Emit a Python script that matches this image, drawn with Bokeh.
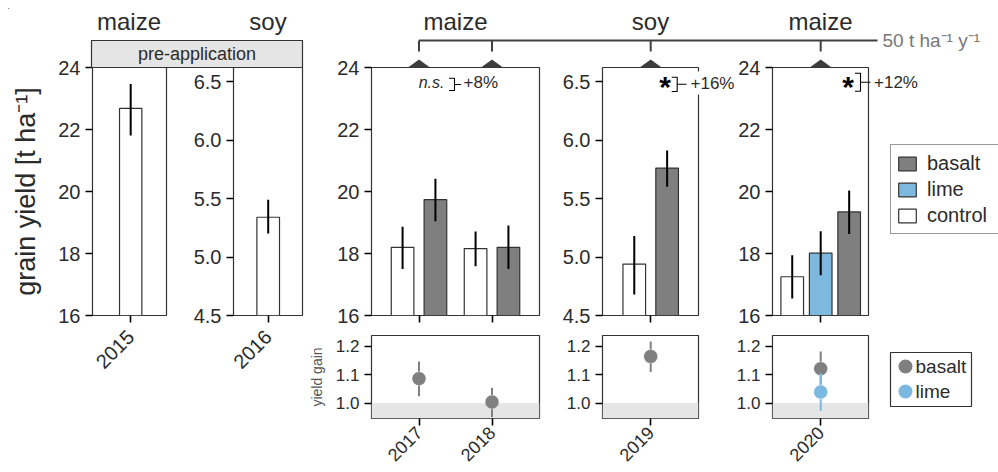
import math
from bokeh.plotting import figure
from bokeh.models import (Range1d, FixedTicker, NumeralTickFormatter,
                          Legend, LegendItem, ColumnDataSource)
from bokeh.core.properties import value
from bokeh.embed import file_html
from bokeh.resources import INLINE

# ------------------------------------------------------------------ data
pre_crops = ["maize", "soy"]
pre_years = ["2015", "2016"]
pre_control = [22.68, 5.34]
pre_control_lo = [21.81, 5.20]
pre_control_hi = [23.47, 5.49]

post_crops = ["maize", "soy", "maize"]

years_1718 = ["2017", "2018"]
control_1718 = [18.20, 18.16]
control_1718_lo = [17.50, 17.59]
control_1718_hi = [18.86, 18.71]
basalt_1718 = [19.74, 18.20]
basalt_1718_lo = [19.04, 17.50]
basalt_1718_hi = [20.41, 18.90]

years_19 = ["2019"]
control_19 = [4.94]
control_19_lo = [4.68]
control_19_hi = [5.18]
basalt_19 = [5.76]
basalt_19_lo = [5.60]
basalt_19_hi = [5.91]

years_20 = ["2020"]
control_20 = [17.25]
control_20_lo = [16.55]
control_20_hi = [17.94]
lime_20 = [18.01]
lime_20_lo = [17.30]
lime_20_hi = [18.72]
basalt_20 = [19.34]
basalt_20_lo = [18.63]
basalt_20_hi = [20.03]

gain_basalt_1718 = [1.086, 1.004]
gain_basalt_1718_lo = [1.024, 0.951]
gain_basalt_1718_hi = [1.146, 1.054]
gain_basalt_19 = [1.164]
gain_basalt_19_lo = [1.109]
gain_basalt_19_hi = [1.216]
gain_basalt_20 = [1.121]
gain_basalt_20_lo = [1.061]
gain_basalt_20_hi = [1.181]
gain_lime_20 = [1.039]
gain_lime_20_lo = [0.972]
gain_lime_20_hi = [1.106]
no_gain = 1.0

significance = ["n.s.", "*", "*"]
effect = ["+8%", "+16%", "+12%"]

maize_ticks = [16, 18, 20, 22, 24]
soy_ticks = [4.5, 5.0, 5.5, 6.0, 6.5]
gain_ticks = [1.0, 1.1, 1.2]
maize_range = (16, 24)
soy_range = (4.5, 6.62)
gain_range = (0.946, 1.2375)

treatments = ["basalt", "lime", "control"]
strip_label = "pre-application"
rate_label = "50 t ha\u207b\u00b9 y\u207b\u00b9"
y_title = "grain yield [t ha\u207b\u00b9]"
gain_title = "yield gain"

# ------------------------------------------------------------------ style / layout
FONT = "Liberation Sans"
W, HF, OFF = 990, 464, 8
EDGE = "#333333"
TXT = "#2b2b2b"
C_CONTROL = "white"
C_BASALT = "#7f7f7f"
C_LIME = "#7db8de"
P_BASALT = "#808080"
P_LIME = "#7cb9e1"
BAND = "#e5e5e5"
DECO = "#404040"
POS = {"position": "absolute", "left": "8px", "top": "8px"}

TOP_T, TOP_B = 67, 315
BOT_T, BOT_B = 335, 418
PX_PER_CAT = 73.0
BAR_W = 0.31
DODGE2 = [-0.225, 0.225]
DODGE3 = [-0.39, 0.0, 0.39]

# panel left edge, right edge, centre of first category (page pixels)
COLS = {"A": (91, 166, 129.7), "B": (233, 302, 267.7), "C": (371, 539, 418.5),
        "D": (602, 698, 650.2), "E": (772, 868, 820.2)}


def xpix(col, x):
    l, r, c = COLS[col]
    return c + (x - 1) * PX_PER_CAT


def panel(col, top, bottom, yrange, yticks, years, yfmt="0", show_years=True,
          ylab_size="20px", xlab_size="20px", xlab_standoff=11):
    l, r, c = COLS[col]
    xr = Range1d(1 - (c - l) / PX_PER_CAT, 1 + (r - c) / PX_PER_CAT)
    p = figure(width=W, height=HF, x_range=xr, y_range=Range1d(*yrange),
               output_backend="svg", toolbar_location=None, title=None,
               min_border_left=l - OFF, min_border_top=top - OFF,
               min_border_right=W - (r - OFF), min_border_bottom=HF - (bottom - OFF),
               background_fill_color=None, border_fill_color=None, styles=POS)
    p.outline_line_color = EDGE
    p.outline_line_width = 1.2
    p.xgrid.visible = False
    p.ygrid.visible = False
    ticks = list(range(1, len(years) + 1))
    p.xaxis.ticker = FixedTicker(ticks=ticks)
    p.xaxis.major_label_overrides = {t: y for t, y in zip(ticks, years)}
    p.yaxis.ticker = FixedTicker(ticks=yticks)
    p.yaxis.formatter = NumeralTickFormatter(format=yfmt)
    for ax in (p.xaxis[0], p.yaxis[0]):
        ax.axis_line_color = None
        ax.major_tick_line_color = "black"
        ax.major_tick_line_width = 1.6
        ax.major_tick_out = 7
        ax.major_tick_in = 0
        ax.minor_tick_line_color = None
        ax.major_label_text_font = FONT
        ax.major_label_text_color = TXT
    p.yaxis.major_label_text_font_size = ylab_size
    p.xaxis.major_label_text_font_size = xlab_size
    p.xaxis.major_label_standoff = xlab_standoff
    p.xaxis.major_label_orientation = math.pi / 4
    if not show_years:
        p.xaxis.major_label_text_color = None
    return p


def bars(p, offset, means, lo, hi, fill):
    xs = [i + 1 + offset for i in range(len(means))]
    p.vbar(x=xs, top=means, bottom=0, width=BAR_W, fill_color=fill,
           line_color=EDGE, line_width=1.2)
    p.segment(x0=xs, y0=lo, x1=xs, y1=hi, line_color="black", line_width=2)


def gains(p, means, lo, hi, color):
    xs = [i + 1 for i in range(len(means))]
    p.segment(x0=xs, y0=lo, x1=xs, y1=hi, line_color=color, line_width=2)
    p.scatter(x=xs, y=means, size=14, fill_color=color, line_color="white",
              line_width=0.6, line_alpha=0.7)


def band(p):
    p.quad(left=p.x_range.start, right=p.x_range.end, bottom=p.y_range.start,
           top=no_gain, fill_color=BAND, line_color=None)


# ------------------------------------------------------------------ top panels
pA = panel("A", TOP_T, TOP_B, maize_range, maize_ticks, pre_years[:1])
bars(pA, 0.0, pre_control[:1], pre_control_lo[:1], pre_control_hi[:1], C_CONTROL)
pA.yaxis.axis_label = y_title
pA.yaxis.axis_label_text_font = FONT
pA.yaxis.axis_label_text_font_size = "27px"
pA.yaxis.axis_label_text_font_style = "normal"
pA.yaxis.axis_label_text_color = TXT
pA.yaxis.axis_label_standoff = 14

pB = panel("B", TOP_T, TOP_B, soy_range, soy_ticks, pre_years[1:], yfmt="0.0")
bars(pB, 0.0, pre_control[1:], pre_control_lo[1:], pre_control_hi[1:], C_CONTROL)

pC = panel("C", TOP_T, TOP_B, maize_range, maize_ticks, years_1718, show_years=False)
bars(pC, DODGE2[0], control_1718, control_1718_lo, control_1718_hi, C_CONTROL)
bars(pC, DODGE2[1], basalt_1718, basalt_1718_lo, basalt_1718_hi, C_BASALT)

pD = panel("D", TOP_T, TOP_B, soy_range, soy_ticks, years_19, yfmt="0.0", show_years=False)
bars(pD, DODGE2[0], control_19, control_19_lo, control_19_hi, C_CONTROL)
bars(pD, DODGE2[1], basalt_19, basalt_19_lo, basalt_19_hi, C_BASALT)

pE = panel("E", TOP_T, TOP_B, maize_range, maize_ticks, years_20, show_years=False)
bars(pE, DODGE3[0], control_20, control_20_lo, control_20_hi, C_CONTROL)
bars(pE, DODGE3[1], lime_20, lime_20_lo, lime_20_hi, C_LIME)
bars(pE, DODGE3[2], basalt_20, basalt_20_lo, basalt_20_hi, C_BASALT)

# ------------------------------------------------------------------ gain panels
gkw = dict(yfmt="0.0", ylab_size="17px", xlab_size="18px", xlab_standoff=4)
qC = panel("C", BOT_T, BOT_B, gain_range, gain_ticks, years_1718, **gkw)
band(qC)
gains(qC, gain_basalt_1718, gain_basalt_1718_lo, gain_basalt_1718_hi, P_BASALT)
qC.yaxis.axis_label = gain_title
qC.yaxis.axis_label_text_font = FONT
qC.yaxis.axis_label_text_font_size = "14px"
qC.yaxis.axis_label_text_font_style = "normal"
qC.yaxis.axis_label_text_color = "#555555"
qC.yaxis.axis_label_standoff = 8

qD = panel("D", BOT_T, BOT_B, gain_range, gain_ticks, years_19, **gkw)
band(qD)
gains(qD, gain_basalt_19, gain_basalt_19_lo, gain_basalt_19_hi, P_BASALT)

qE = panel("E", BOT_T, BOT_B, gain_range, gain_ticks, years_20, **gkw)
band(qE)
gains(qE, gain_basalt_20, gain_basalt_20_lo, gain_basalt_20_hi, P_BASALT)
gains(qE, gain_lime_20, gain_lime_20_lo, gain_lime_20_hi, P_LIME)

# ------------------------------------------------------------------ overlay (annotations)
ov = figure(width=W, height=HF, x_range=Range1d(OFF, OFF + W), y_range=Range1d(OFF + HF, OFF),
            x_axis_type=None, y_axis_type=None, output_backend="svg",
            toolbar_location=None, title=None, min_border=0,
            background_fill_color=None, border_fill_color=None, outline_line_color=None,
            styles=POS)

txt = dict(text_font=value(FONT), text_color=TXT)

# crop names
ov.text(x=[(COLS[k][0] + COLS[k][1]) / 2 for k in "AB"], y=[20.5, 20.5], text=pre_crops,
        text_align="center", text_baseline="middle", text_font_size="24px", **txt)
ov.text(x=[(COLS[k][0] + COLS[k][1]) / 2 for k in "CDE"], y=[20.5] * 3, text=post_crops,
        text_align="center", text_baseline="middle", text_font_size="24px", **txt)

# pre-application strip
ov.quad(left=COLS["A"][0], right=COLS["B"][1], top=40, bottom=TOP_T,
        fill_color=BAND, line_color=EDGE, line_width=1.2)
ov.text(x=[(COLS["A"][0] + COLS["B"][1]) / 2], y=[53.5], text=[strip_label],
        text_align="center", text_baseline="middle", text_font_size="18px", **txt)

# application bracket + triangles
apps = [xpix("C", 1), xpix("C", 2), xpix("D", 1), xpix("E", 1)]
ov.segment(x0=[apps[0]], y0=[40], x1=[877], y1=[40], line_color=DECO, line_width=2)
ov.segment(x0=apps, y0=[40] * len(apps), x1=apps, y1=[51] * len(apps),
           line_color=DECO, line_width=2)
ov.patches(xs=[[a - 11, a + 11, a] for a in apps],
           ys=[[TOP_T, TOP_T, TOP_T - 8] for _ in apps],
           fill_color="#3d3d3d", line_color=None)
ov.text(x=[882], y=[40], text=[rate_label], text_align="left", text_baseline="middle",
        text_font=value(FONT), text_font_size="19px", text_color="#777777")

# significance marks
ov.text(x=[444], y=[82], text=[significance[0]], text_align="right",
        text_baseline="middle", text_font_size="16px", text_font_style="italic", **txt)
ov.text(x=[664.5, 847.5], y=[86, 86], text=significance[1:], text_align="center",
        text_baseline="alphabetic", text_font_size="30px", text_font_style="bold",
        text_font=value(FONT), text_color="black")
br_x = [454, 676.7, 860]
br_y0 = [77.7, 76.7, 72.7]
br_y1 = [90, 91, 90.7]
br_mid = [84, 83.8, 81.7]
br_end = [460.7, 686, 870]
ov.multi_line(xs=[[x - 5.5, x, x, x - 5.5] for x in br_x],
              ys=[[a, a, b, b] for a, b in zip(br_y0, br_y1)],
              line_color="black", line_width=1.1)
ov.segment(x0=br_x, y0=br_mid, x1=br_end, y1=br_mid, line_color="black", line_width=1.1)
ov.text(x=[461, 688, 871.5], y=[82, 82.5, 82], text=effect, text_align="left",
        text_baseline="middle", text_font_size="17px",
        background_fill_color="white", padding=2, **txt)

# legend for bars
leg_src = ColumnDataSource(data=dict(x=[OFF - 100], top=[OFF - 100]))
fills = {"basalt": C_BASALT, "lime": C_LIME, "control": C_CONTROL}
items = []
for t in treatments:
    r = ov.vbar(x="x", top="top", width=1, source=leg_src, fill_color=fills[t],
                line_color=EDGE, line_width=1.2)
    items.append(LegendItem(label=t, renderers=[r]))
leg = Legend(items=items, location=(890 - OFF, HF - (234 - OFF)),
             glyph_width=22, glyph_height=17, label_standoff=9, padding=5, spacing=0,
             label_height=26, label_width=76, label_text_font=FONT,
             label_text_font_size="20px", label_text_color=TXT,
             border_line_color=EDGE, border_line_width=1.2,
             background_fill_color="white", background_fill_alpha=1.0, margin=0)
ov.add_layout(leg)

# legend for gain points
ov.quad(left=890, right=971, top=352, bottom=406, fill_color="white",
        line_color=EDGE, line_width=1.2)
ov.scatter(x=[905, 905], y=[366, 391], size=14, fill_color=[P_BASALT, P_LIME], line_color=None)
ov.text(x=[915, 915], y=[366, 391], text=treatments[:2], text_align="left",
        text_baseline="middle", text_font_size="19px", **txt)

figs = [pA, pB, pC, pD, pE, qC, qD, qE, ov]
open("out.html", "w").write(file_html(figs, INLINE))
